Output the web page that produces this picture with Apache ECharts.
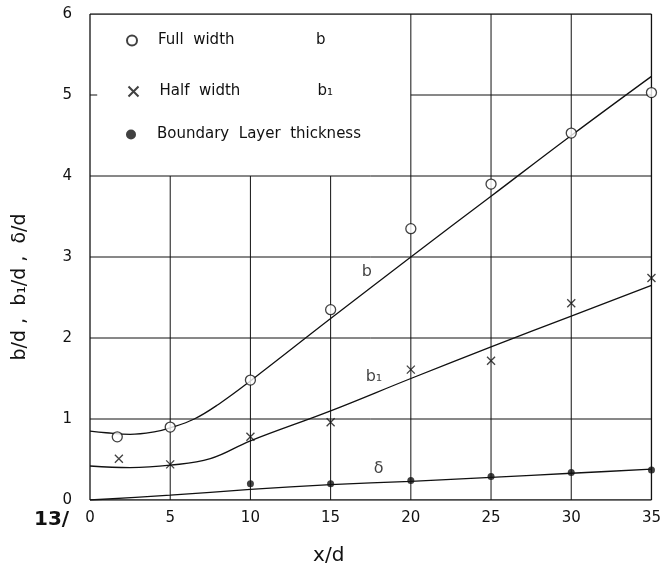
<!DOCTYPE html>
<html><head><meta charset="utf-8">
<script src="https://cdn.jsdelivr.net/npm/echarts@6/dist/echarts.min.js"></script>
<style>html,body{margin:0;padding:0;background:#fff}#c{width:664px;height:580px}</style>
</head><body><div id="c"></div>
<script>
// ---- data ----
const xTicks = [0, 5, 10, 15, 20, 25, 30, 35];
const yTicks = [0, 1, 2, 3, 4, 5, 6];
// measured points
const bX  = [1.7, 5, 10, 15, 20, 25, 30, 35];
const bY  = [0.78, 0.90, 1.48, 2.35, 3.35, 3.90, 4.53, 5.03];
const b1X = [1.8, 5, 10, 15, 20, 25, 30, 35];
const b1Y = [0.51, 0.44, 0.78, 0.96, 1.61, 1.72, 2.43, 2.74];
const dX  = [10, 15, 20, 25, 30, 35];
const dY  = [0.20, 0.20, 0.24, 0.29, 0.34, 0.37];
// fitted curves
const bCurveX  = [0, 1, 2.5, 4, 5, 6.5, 8, 10, 15, 20, 25, 30, 35];
const bCurveY  = [0.85, 0.83, 0.81, 0.84, 0.89, 1.00, 1.18, 1.47, 2.24, 3.00, 3.75, 4.50, 5.23];
const b1CurveX = [0, 2.5, 5, 7.5, 10, 15, 20, 25, 30, 35];
const b1CurveY = [0.42, 0.40, 0.43, 0.51, 0.73, 1.10, 1.50, 1.89, 2.27, 2.65];
const dCurveX  = [0, 5, 10, 15, 20, 25, 30, 35];
const dCurveY  = [0.00, 0.06, 0.13, 0.19, 0.23, 0.28, 0.33, 0.38];
// curve labels
const curveLabels = ['b', 'b\u2081', '\u03b4'];
const labelX = [17.25, 17.7, 18.0];
const labelY = [2.82, 1.52, 0.39];
// legend box region (no grid inside): x < 20, y > 4
const boxX = 20, boxY = 4;

const zip = (xs, ys) => xs.map((x, i) => [x, ys[i]]);
const FONT = 'DejaVu Sans';
const black = '#111';

// grid segments
const gridSeries = [];
function seg(a, b, w) {
  gridSeries.push({type: 'line', data: [a, b], symbol: 'none', silent: true, z: 1,
    lineStyle: {color: black, width: w || 1}, animation: false});
}
xTicks.forEach(x => {
  const top = (x > 0 && x < boxX) ? boxY : yTicks[yTicks.length - 1];
  seg([x, 0], [x, top], (x === 0 || x === 35) ? 1.3 : 1);
});
yTicks.forEach(y => {
  const left = (y > boxY && y < 6) ? boxX : 0;
  seg([left, y], [35, y], (y === 0 || y === 6) ? 1.3 : 1);
});
// small inside tick at y=5 on left border
seg([0, 5], [0.45, 5], 1);

const crossPath = 'path://M0,0L10,10M10,0L0,10';

const option = {
  animation: false,
  backgroundColor: '#fff',
  grid: {left: 90, right: 10, top: 14, bottom: 80},
  xAxis: {
    type: 'value', min: 0, max: 35, interval: 5,
    axisLine: {show: false}, axisTick: {show: false}, splitLine: {show: false},
    axisLabel: {color: black, fontFamily: FONT, fontSize: 15, margin: 11},
    name: 'x/d', nameLocation: 'middle', nameGap: 46,
    nameTextStyle: {color: black, fontFamily: FONT, fontSize: 20, padding: [0, 84, 0, 0]}
  },
  yAxis: {
    type: 'value', min: 0, max: 6, interval: 1,
    axisLine: {show: false}, axisTick: {show: false}, splitLine: {show: false},
    axisLabel: {color: black, fontFamily: FONT, fontSize: 15, margin: 18},
    name: 'b/d ,  b\u2081/d ,  \u03b4/d', nameLocation: 'middle', nameGap: 60,
    nameTextStyle: {color: black, fontFamily: FONT, fontSize: 19, padding: [0, 60, 0, 0]}
  },
  legend: [
    {data: ['Full width'], top: 28},
    {data: ['Half width'], top: 79},
    {data: ['Boundary Layer thickness'], top: 122}
  ].map(l => Object.assign(l, {
    left: 121, orient: 'vertical', itemWidth: 10, itemHeight: 10,
    selectedMode: false,
    formatter: n => n === 'Full width' ? '{a|Full  width}{b|b}' :
                    n === 'Half width' ? '{a|Half  width}{b|b\u2081}' :
                    '{a|Boundary  Layer  thickness}',
    textStyle: {color: black, fontFamily: FONT, fontSize: 15,
      rich: {a: {width: 158, padding: [0, 0, 0, 16], fontFamily: FONT, fontSize: 15, color: black},
             b: {fontFamily: FONT, fontSize: 15, color: black}}}
  })),
  graphic: [{
    type: 'text', left: 34, top: 510,
    style: {text: '13/', font: 'bold 20px "DejaVu Sans"', fill: black}
  }],
  series: gridSeries.concat([
    {type: 'line', data: zip(bCurveX, bCurveY), smooth: 0.4, symbol: 'none', z: 2,
     lineStyle: {color: black, width: 1.3}},
    {type: 'line', data: zip(b1CurveX, b1CurveY), smooth: 0.4, symbol: 'none', z: 2,
     lineStyle: {color: black, width: 1.3}},
    {type: 'line', data: zip(dCurveX, dCurveY), smooth: 0.3, symbol: 'none', z: 2,
     lineStyle: {color: black, width: 1.3}},
    {name: 'Full width', type: 'scatter', data: zip(bX, bY), symbol: 'circle', symbolSize: 10, z: 3,
     itemStyle: {color: '#fff', borderColor: black, borderWidth: 1.3}},
    {name: 'Half width', type: 'scatter', data: zip(b1X, b1Y), symbol: crossPath, symbolSize: 8, z: 3,
     itemStyle: {color: 'none', borderColor: black, borderWidth: 1.3}},
    {name: 'Boundary Layer thickness', type: 'scatter', data: zip(dX, dY), symbol: 'circle', symbolSize: 7, z: 3,
     itemStyle: {color: black}},
    {type: 'scatter', silent: true, z: 4, symbolSize: 0,
     data: curveLabels.map((t, i) => ({value: [labelX[i], labelY[i]], name: t})),
     label: {show: true, position: 'inside', formatter: p => p.name, color: black, fontFamily: FONT, fontSize: 16}}
  ])
};
echarts.init(document.getElementById('c')).setOption(option);
</script></body></html>
